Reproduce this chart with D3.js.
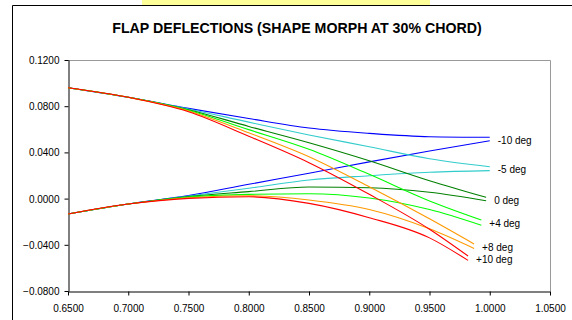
<!DOCTYPE html>
<html><head><meta charset="utf-8">
<script src="https://cdn.jsdelivr.net/npm/d3@7"></script>
<style>
body{margin:0;background:#fff}
svg{display:block}
text{font-family:"Liberation Sans",Arial,sans-serif}
</style>
</head><body>
<svg id="c" width="572" height="320"></svg>
<script>
const chartTitle = "FLAP DEFLECTIONS (SHAPE MORPH AT 30% CHORD)";
const seriesNames = ["-10 deg", "-5 deg", "0 deg", "+4 deg", "+8 deg", "+10 deg"];
const seriesColors = ["#0000ff", "#33cccc", "#008000", "#00ff00", "#ff9900", "#ff0000"];
const xStations = [0.65, 0.70, 0.75, 0.80, 0.85, 0.90, 0.95];
const xTrailingEdge = [1.000, 1.000, 0.997, 0.993, 0.987, 0.982];
const upperSurface = [
  [0.0960, 0.0877, 0.0781, 0.0693, 0.0611, 0.0565, 0.0536, 0.0531],
  [0.0960, 0.0877, 0.0776, 0.0662, 0.0551, 0.0449, 0.0345, 0.0276],
  [0.0960, 0.0877, 0.0770, 0.0625, 0.0484, 0.0328, 0.0155, 0.0011],
  [0.0960, 0.0877, 0.0765, 0.0597, 0.0427, 0.0210, -0.0020, -0.0185],
  [0.0960, 0.0877, 0.0759, 0.0570, 0.0363, 0.0103, -0.0175, -0.0393],
  [0.0960, 0.0877, 0.0752, 0.0540, 0.0311, 0.0037, -0.0265, -0.0497]
];
const lowerSurface = [
  [-0.0133, -0.0047, 0.0026, 0.0124, 0.0219, 0.0318, 0.0412, 0.0501],
  [-0.0133, -0.0047, 0.0022, 0.0089, 0.0161, 0.0198, 0.0228, 0.0242],
  [-0.0133, -0.0047, 0.0018, 0.0060, 0.0100, 0.0094, 0.0055, -0.0018],
  [-0.0133, -0.0047, 0.0014, 0.0037, 0.0042, 0.0005, -0.0095, -0.0231],
  [-0.0133, -0.0047, 0.0008, 0.0025, -0.0012, -0.0095, -0.0262, -0.0432],
  [-0.0133, -0.0047, 0.0002, 0.0016, -0.0041, -0.0165, -0.0340, -0.0535]
];
const xTickValues = [0.65, 0.70, 0.75, 0.80, 0.85, 0.90, 0.95, 1.00, 1.05];
const yTickValues = [-0.08, -0.04, 0.00, 0.04, 0.08, 0.12];

const svg = d3.select("#c");
const L = 68, R = 550, T = 60, B = 291;
const x = d3.scaleLinear().domain([0.65, 1.05]).range([L, R]);
const y = d3.scaleLinear().domain([-0.08, 0.12]).range([B, T]);

// top yellow strip and outer frame
svg.append("rect").attr("x", 142).attr("y", 0).attr("width", 288).attr("height", 5).attr("fill", "#ffff99");
svg.append("path").attr("d", "M12.5,330V5.5H580").attr("fill", "none").attr("stroke", "#000").attr("stroke-width", 1);

svg.append("text").attr("x", 297).attr("y", 33).attr("text-anchor", "middle")
  .attr("font-size", "14.2px").attr("font-weight", "bold").attr("fill", "#000").text(chartTitle);

// plot border (gray top/right)
svg.append("path").attr("d", `M${L},${T+0.5}H${R+0.5}V${B}`).attr("fill", "none").attr("stroke", "#999").attr("stroke-width", 1);

const fmt = d3.format(".4f");
const xa = svg.append("g").attr("transform", `translate(0,${B+0.5})`)
  .call(d3.axisBottom(x).tickValues(xTickValues).tickFormat(fmt).tickSizeInner(4).tickSizeOuter(0).tickPadding(9));
const ya = svg.append("g").attr("transform", `translate(${L+0.5},0)`)
  .call(d3.axisLeft(y).tickValues(yTickValues).tickFormat(fmt).tickSizeInner(4).tickSizeOuter(0).tickPadding(5));
[xa, ya].forEach(g => {
  g.selectAll("text").attr("font-size", "10px").attr("font-family", "'Liberation Sans',Arial,sans-serif").attr("fill", "#000");
  g.selectAll("line,path").attr("stroke", "#000");
});
ya.selectAll("text").attr("dy", "0.35em");

const line = d3.line().x(d => x(d[0])).y(d => y(d[1])).curve(d3.curveMonotoneX);
const gl = svg.append("g");
seriesNames.forEach((name, i) => {
  const xs = xStations.concat([xTrailingEdge[i]]);
  [upperSurface[i], lowerSurface[i]].forEach(vals => {
    gl.append("path").attr("d", line(xs.map((xv, k) => [xv, vals[k]])))
      .attr("fill", "none").attr("stroke", seriesColors[i]).attr("stroke-width", 1.1);
  });
  const last = xs.length - 1;
  const yMid = (y(upperSurface[i][last]) + y(lowerSurface[i][last])) / 2;
  svg.append("text").attr("x", x(xTrailingEdge[i]) + 8).attr("y", yMid + 1)
    .attr("dy", "0.35em").attr("font-size", "10px").attr("fill", "#000").text(name);
});
</script>
</body></html>
